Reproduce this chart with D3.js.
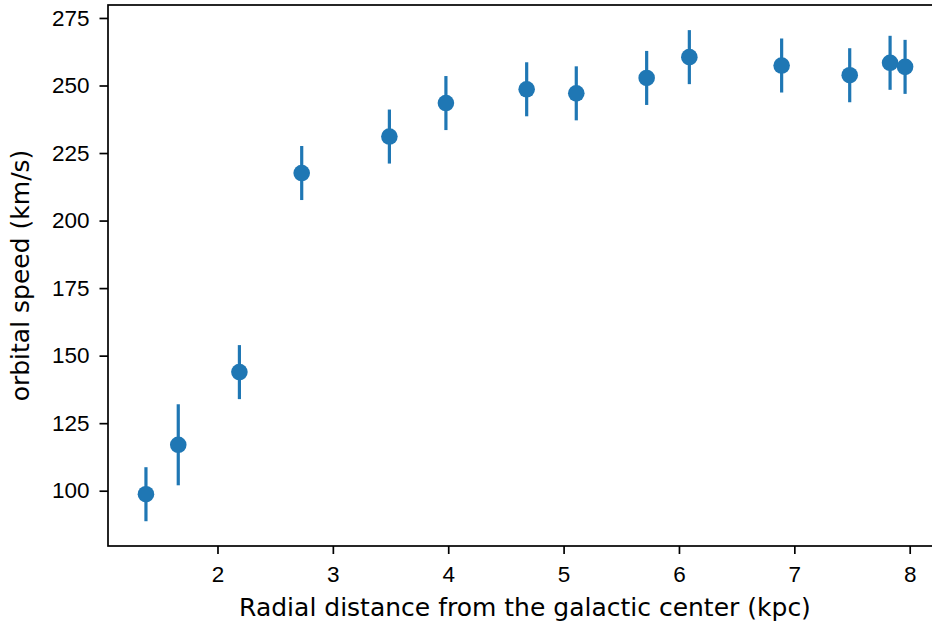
<!DOCTYPE html>
<html>
<head>
<meta charset="utf-8" />
<style>
  body { margin: 0; background: #fff; }
  svg { display: block; font-family: "DejaVu Sans", sans-serif; }
</style>
<script src="https://cdn.jsdelivr.net/npm/d3@7"></script>
</head>
<body>
<script>
// radial distance (kpc), orbital speed (km/s), error (km/s)
const distances = [1.38, 1.66, 2.19, 2.73, 3.49, 3.98, 4.68, 5.11, 5.72, 6.09, 6.89, 7.48, 7.83, 7.96];
const speeds    = [98.7, 117.0, 143.9, 217.6, 231.1, 243.5, 248.6, 247.1, 252.8, 260.5, 257.4, 253.8, 258.4, 256.9];
const errors    = [10, 15, 10, 10, 10, 10, 10, 10, 10, 10, 10, 10, 10, 10];
const xTicks = [2, 3, 4, 5, 6, 7, 8];
const yTicks = [100, 125, 150, 175, 200, 225, 250, 275];

const W = 932, H = 624;
const m = { left: 108, right: 942, top: 5, bottom: 546 };
const blue = "#1f77b4";
const tickFont = "22.5px", labelFont = "25px";

const svg = d3.select("body").append("svg").attr("width", W).attr("height", H);

const x = d3.scaleLinear().domain([1.051, 8.28]).range([m.left, m.right]);
const y = d3.scaleLinear().domain([79.53, 279.8]).range([m.bottom, m.top]);

// x axis
const gx = svg.append("g")
  .attr("transform", `translate(0,${m.bottom})`)
  .call(d3.axisBottom(x).tickValues(xTicks).tickFormat(d3.format("d")).tickSize(8).tickPadding(12.5));
// y axis
const gy = svg.append("g")
  .attr("transform", `translate(${m.left},0)`)
  .call(d3.axisLeft(y).tickValues(yTicks).tickFormat(d3.format("d")).tickSize(8.5).tickPadding(10));

[gx, gy].forEach(g => {
  g.select(".domain").remove();
  g.selectAll(".tick line").attr("stroke", "#000").attr("stroke-width", 1.7);
  g.selectAll(".tick text").attr("fill", "#000").style("font-size", tickFont);
});

// spines
svg.append("rect")
  .attr("x", m.left).attr("y", m.top)
  .attr("width", m.right - m.left).attr("height", m.bottom - m.top)
  .attr("fill", "none").attr("stroke", "#000").attr("stroke-width", 1.7);

const pts = distances.map((d, i) => ({ x: d, v: speeds[i], e: errors[i] }));

// error bars
svg.append("g").selectAll("line").data(pts).join("line")
  .attr("x1", d => x(d.x)).attr("x2", d => x(d.x))
  .attr("y1", d => y(d.v - d.e)).attr("y2", d => y(d.v + d.e))
  .attr("stroke", blue).attr("stroke-width", 3.2);

// markers
svg.append("g").selectAll("circle").data(pts).join("circle")
  .attr("cx", d => x(d.x)).attr("cy", d => y(d.v))
  .attr("r", 8.3).attr("fill", blue);

// labels
svg.append("text")
  .attr("x", (m.left + m.right) / 2).attr("y", 616)
  .attr("text-anchor", "middle").style("font-size", labelFont)
  .text("Radial distance from the galactic center (kpc)");

svg.append("text")
  .attr("transform", `translate(29,${(m.top + m.bottom) / 2}) rotate(-90)`)
  .attr("text-anchor", "middle").style("font-size", labelFont)
  .text("orbital speed (km/s)");
</script>
</body>
</html>
